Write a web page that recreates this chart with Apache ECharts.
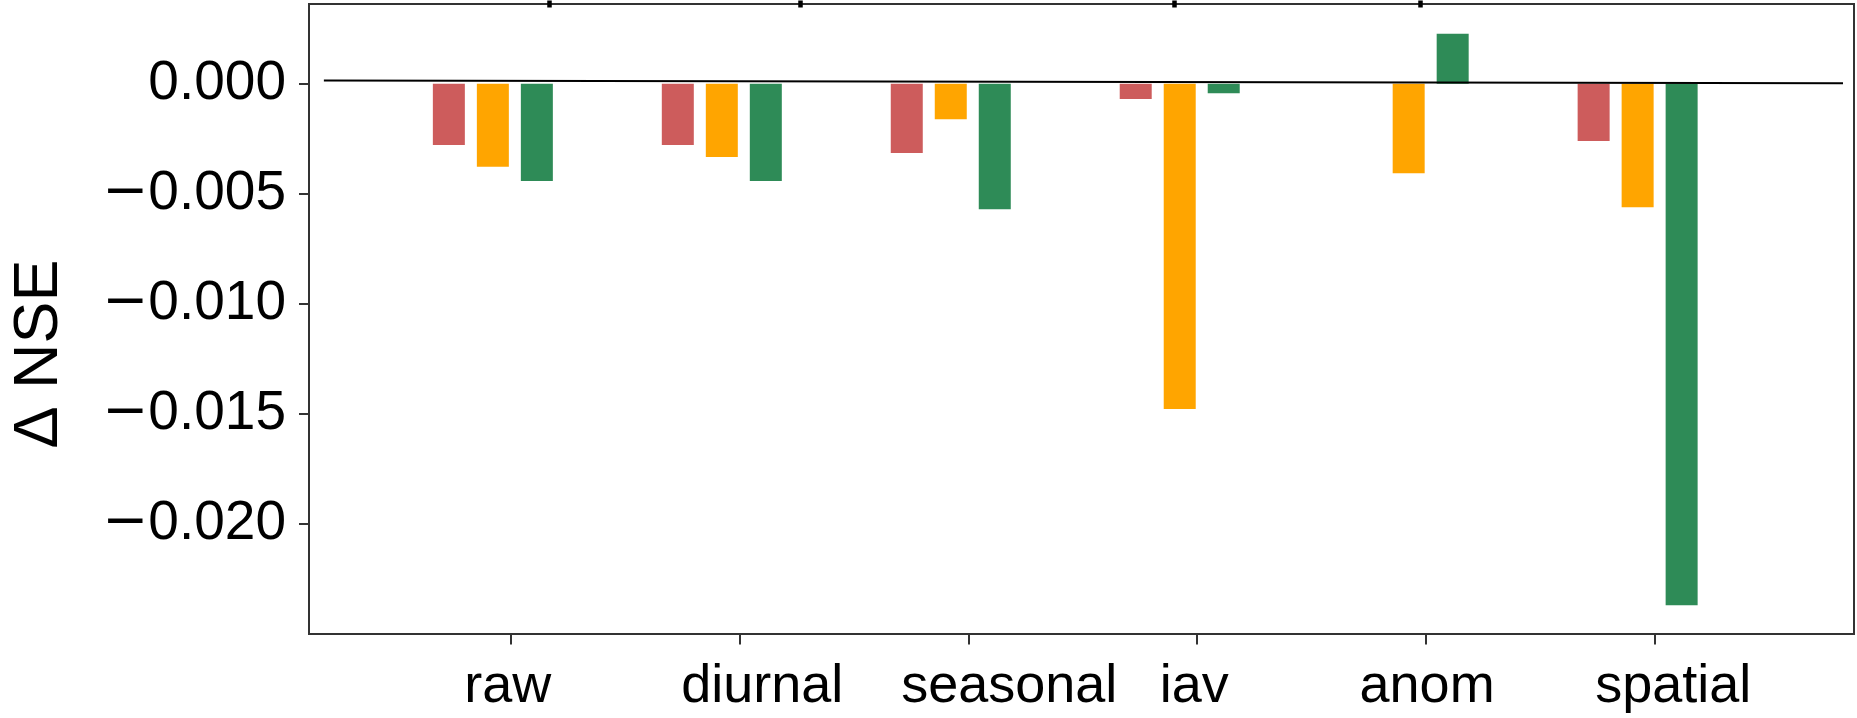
<!DOCTYPE html>
<html>
<head>
<meta charset="utf-8">
<script src="https://cdn.jsdelivr.net/npm/echarts@6/dist/echarts.min.js"></script>
<style>
  html, body { margin: 0; padding: 0; background: #ffffff; }
  #chart { width: 1857px; height: 718px; }
</style>
</head>
<body>
<div id="chart"></div>
<script>
// Decomposition components on the x axis
const categories = ['raw', 'diurnal', 'seasonal', 'iav', 'anom', 'spatial'];

// Change in NSE for each of the three model variants
const redValues    = [-0.00279, -0.00279, -0.00315, -0.00070, 0.00000, -0.00260];
const orangeValues = [-0.00377, -0.00333, -0.00161, -0.01478, -0.00407, -0.00561];
const greenValues  = [-0.00442, -0.00442, -0.00570, -0.00044, 0.00227, -0.02369];

// Reference line near zero (x in category units, y in NSE units)
const refLineX = [-0.738, 5.897];
const refLineY = [0.00015, 0.00002];

// Y tick labels
const yTicks = [0, -0.005, -0.010, -0.015, -0.020];

// Layout helpers (category units)
const tickShift = 0.0764;
const labelShift = [-0.011, 0.100, 0.179, -0.013, 0.004, 0.079];
const topTickPositions = [0.1552, 0.3182, 0.5602, 0.7190];

const AXIS_COLOR = '#333333';

function pairs(values) {
  return values.map((v, i) => [i, v]);
}

const chart = echarts.init(document.getElementById('chart'), null, { renderer: 'canvas' });

chart.setOption({
  animation: false,
  backgroundColor: '#ffffff',
  grid: {
    left: 308, right: 3, top: 4, bottom: 84,
    show: true,
    borderColor: AXIS_COLOR,
    borderWidth: 2,
    backgroundColor: 'transparent'
  },
  xAxis: [
    {
      type: 'value',
      position: 'bottom',
      min: -0.803,
      max: 5.945,
      axisLine: { show: false, onZero: false },
      splitLine: { show: false },
      axisTick: {
        show: true,
        length: 10.5,
        lineStyle: { color: AXIS_COLOR, width: 2 },
        customValues: categories.map((_, i) => i + tickShift)
      },
      axisLabel: {
        show: true,
        margin: 26,
        fontFamily: 'Liberation Sans',
        fontSize: 54,
        color: '#000000',
        customValues: categories.map((_, i) => i + tickShift + labelShift[i]),
        formatter: (v) => categories[Math.round(v)] || ''
      }
    },
    {
      type: 'value',
      position: 'top',
      min: 0,
      max: 1,
      offset: 3.5,
      axisLine: { show: false, onZero: false },
      splitLine: { show: false },
      axisLabel: { show: false },
      axisTick: {
        show: true,
        inside: true,
        length: 7,
        lineStyle: { color: '#000000', width: 4.5 },
        customValues: topTickPositions
      }
    }
  ],
  yAxis: {
    type: 'value',
    position: 'left',
    min: -0.025,
    max: 0.00362,
    name: 'Δ NSE',
    nameLocation: 'middle',
    nameGap: 238,
    nameTextStyle: {
      fontFamily: 'Liberation Sans',
      fontSize: 63,
      color: '#000000',
      padding: [0, 70, 0, 0]
    },
    axisLine: { show: false, onZero: false },
    splitLine: { show: false },
    axisTick: {
      show: true,
      length: 10,
      lineStyle: { color: AXIS_COLOR, width: 2 },
      customValues: yTicks
    },
    axisLabel: {
      show: true,
      margin: 23,
      customValues: yTicks,
      formatter: (v) => {
        const body = Math.abs(v).toFixed(3);
        return v < -1e-9 ? '{m|\u2212}{n|' + body + '}' : '{n|' + body + '}';
      },
      rich: {
        m: { fontFamily: 'DejaVu Sans', fontSize: 55, color: '#000000' },
        n: { fontFamily: 'Liberation Sans', fontSize: 55, color: '#000000' }
      }
    }
  },
  series: [
    {
      type: 'bar',
      xAxisIndex: 0,
      data: pairs(redValues),
      barWidth: 32,
      barGap: '37.5%',
      itemStyle: { color: '#CD5C5C' }
    },
    {
      type: 'bar',
      xAxisIndex: 0,
      data: pairs(orangeValues),
      barWidth: 32,
      barGap: '37.5%',
      itemStyle: { color: '#FFA500' }
    },
    {
      type: 'bar',
      xAxisIndex: 0,
      data: pairs(greenValues),
      barWidth: 32,
      barGap: '37.5%',
      itemStyle: { color: '#2E8B57' }
    },
    {
      type: 'line',
      xAxisIndex: 0,
      data: refLineX.map((x, i) => [x, refLineY[i]]),
      symbol: 'none',
      z: 5,
      lineStyle: { color: '#000000', width: 2 }
    }
  ]
});
</script>
</body>
</html>
